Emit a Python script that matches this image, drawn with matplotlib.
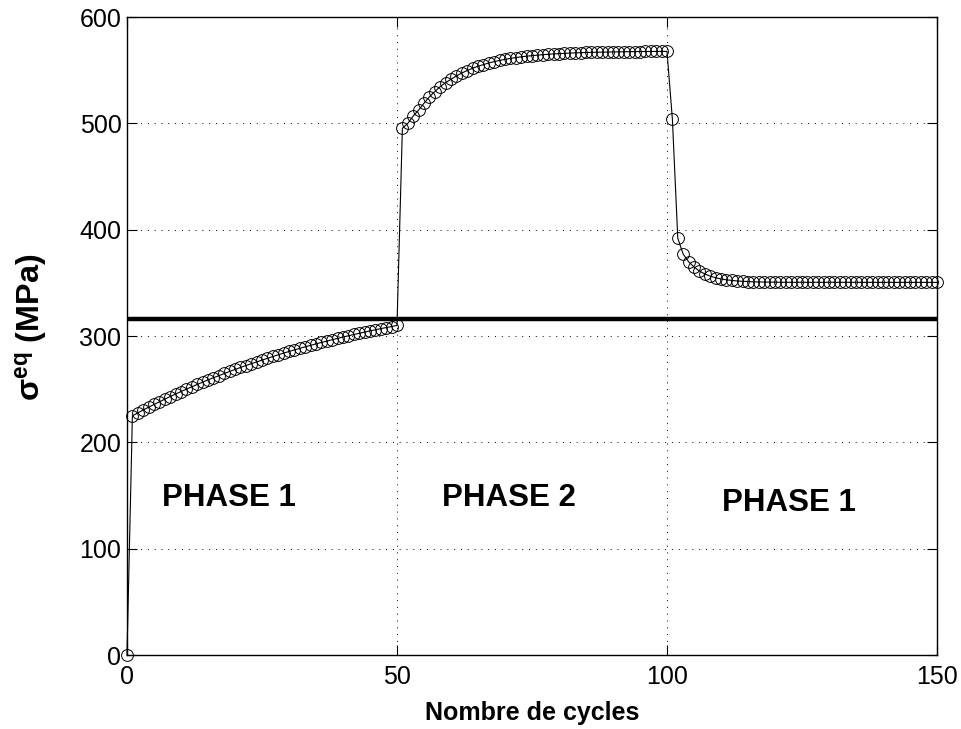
#!/usr/bin/env python

import numpy as np
import matplotlib
matplotlib.use('Agg')
import matplotlib.pyplot as plt

plt.rcParams['font.family'] = ['Liberation Sans', 'DejaVu Sans']
plt.rcParams['mathtext.fontset'] = 'custom'
plt.rcParams['mathtext.rm'] = 'Liberation Sans:bold'
plt.rcParams['mathtext.it'] = 'Liberation Sans:bold'
plt.rcParams['mathtext.bf'] = 'Liberation Sans:bold'

# sigma_eq, one value per cycle
phase1_a = [0.0,
            225.0, 227.8, 230.5, 233.1, 235.7, 238.2, 240.7, 243.1, 245.5, 247.8,
            250.1, 252.3, 254.5, 256.6, 258.8, 260.8, 262.8, 264.8, 266.7, 268.6,
            270.5, 272.3, 274.0, 275.8, 277.5, 279.2, 280.8, 282.4, 284.0, 285.5,
            287.0, 288.5, 289.9, 291.3, 292.7, 294.0, 295.3, 296.6, 297.9, 299.1,
            300.3, 301.5, 302.6, 303.8, 304.9, 305.9, 307.0, 308.0, 309.0, 310.0]
phase2 = [495.5, 500.0, 507.0, 512.5, 519.0, 525.0, 530.0, 534.6, 538.4, 541.6,
          544.7, 547.4, 549.8, 551.9, 553.8, 555.4, 556.9, 558.2, 559.3, 560.3,
          561.2, 562.0, 562.7, 563.3, 563.8, 564.3, 564.7, 565.1, 565.4, 565.7,
          565.9, 566.2, 566.4, 566.6, 566.8, 566.9, 567.0, 567.1, 567.2, 567.3,
          567.4, 567.5, 567.5, 567.6, 567.6, 567.7, 567.7, 567.8, 567.8, 567.8]
phase1_b = [504.0, 392.0, 377.0, 370.0, 365.0, 361.2, 358.4, 356.4, 354.9, 353.7,
            352.9, 352.3, 351.8, 351.5, 351.2, 351.0, 350.9, 350.8, 350.7, 350.6,
            350.6, 350.6, 350.5, 350.5, 350.5, 350.5, 350.5, 350.5, 350.5, 350.5,
            350.5, 350.5, 350.5, 350.5, 350.5, 350.5, 350.5, 350.5, 350.5, 350.5,
            350.5, 350.5, 350.5, 350.5, 350.5, 350.5, 350.5, 350.5, 350.5, 350.5]
sigma = phase1_a + phase2 + phase1_b
cycles = np.arange(len(sigma))

threshold = 316  # horizontal limit line

phase_labels = ['PHASE 1', 'PHASE 2', 'PHASE 1']
phase_x = [18.8, 70.8, 122.6]
phase_y = [148, 148, 143]

fig = plt.figure(figsize=(9.62, 7.29), dpi=100)
ax = fig.add_axes([0.132, 0.1015, 0.842, 0.875])

ax.plot(cycles, sigma, 'k-', lw=0.8, marker='o', markersize=8.5,
        markerfacecolor='none', markeredgecolor='k', markeredgewidth=0.7,
        clip_on=False, zorder=3)
ax.axhline(threshold, color='k', lw=3.2, zorder=2)

for lab, px, py in zip(phase_labels, phase_x, phase_y):
    ax.text(px, py, lab, ha='center', va='center', fontsize=22.5,
            fontweight='bold')

ax.set_xlim(0, 150)
ax.set_ylim(0, 600)
ax.set_xticks([0, 50, 100, 150])
ax.set_yticks(np.arange(0, 601, 100))
ax.grid(True, color='k', linestyle=(0, (1, 6)), linewidth=0.7)
ax.tick_params(direction='in', length=7, width=0.8, top=True, right=True,
               labelsize=18, pad=4)
ax.tick_params(axis='x', pad=7.5)
for sp in ax.spines.values():
    sp.set_linewidth(1.0)

ax.set_xlabel('Nombre de cycles', fontsize=18, fontweight='bold', labelpad=8)
ax.set_ylabel(r'σ$^{\rm eq}$ (MPa)', fontsize=23.3, fontweight='bold')
ax.yaxis.set_label_coords(-0.095, 0.514)

fig.savefig('out.png', dpi=100)
